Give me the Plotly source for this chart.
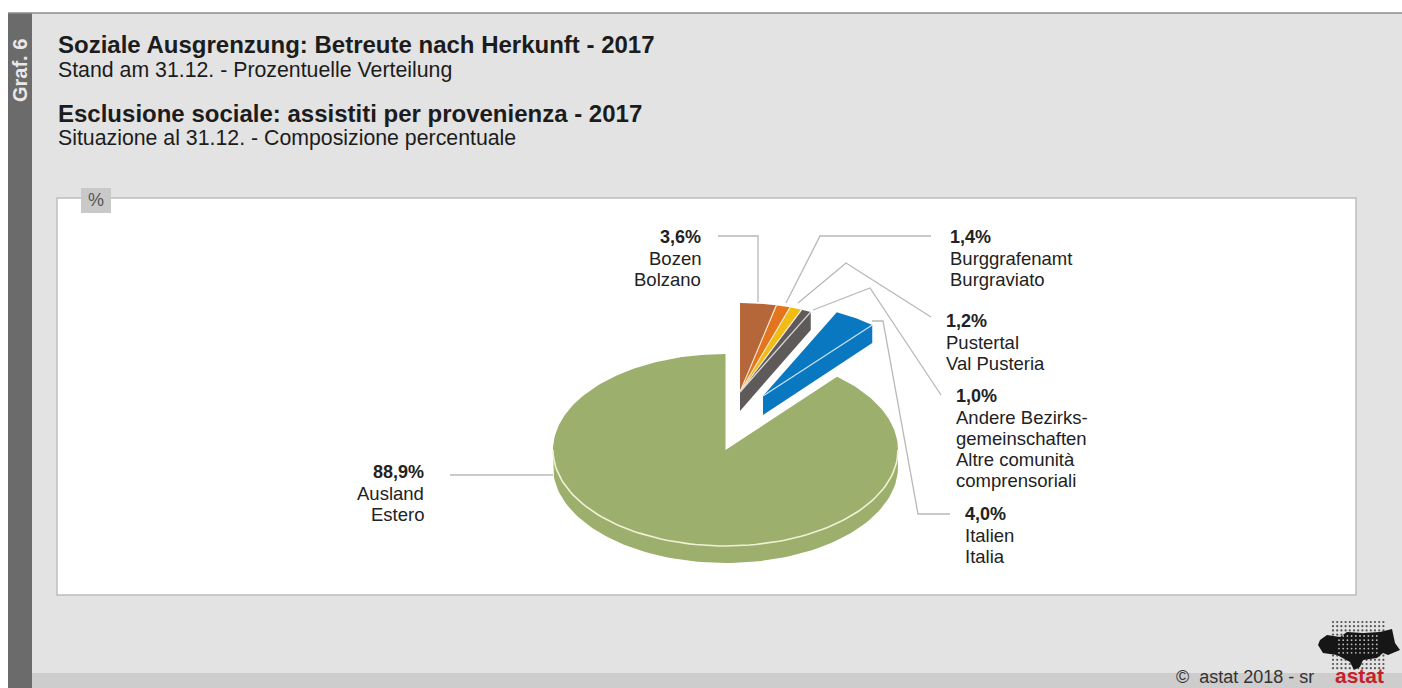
import math
import plotly.graph_objects as go

# ---- data ----
categories = ["Ausland / Estero", "Bozen / Bolzano", "Burggrafenamt / Burgraviato",
              "Pustertal / Val Pusteria", "Andere Bezirksgemeinschaften / Altre comunità comprensoriali",
              "Italien / Italia"]
values = [88.9, 3.6, 1.4, 1.2, 1.0, 4.0]
slice_colors = ["#9CAF6D", "#B5673A", "#E5751D", "#F2BC12", "#5E5A5A", "#0A78C1"]
label_texts = [
    ["<b>88,9%</b>", "Ausland", "Estero"],
    ["<b>3,6%</b>", "Bozen", "Bolzano"],
    ["<b>1,4%</b>", "Burggrafenamt", "Burgraviato"],
    ["<b>1,2%</b>", "Pustertal", "Val Pusteria"],
    ["<b>1,0%</b>", "Andere Bezirks-", "gemeinschaften", "Altre comunità", "comprensoriali"],
    ["<b>4,0%</b>", "Italien", "Italia"],
]

FONT = "Liberation Sans, Arial, sans-serif"
TXT = "#222222"
DEPTH = 17
LEAD = "#B8B8B8"
total = sum(values)

# clockwise-from-top sweep: small slices first from 12 o'clock, then the big one
order = [1, 2, 3, 4, 5, 0]
spans = {}
acc = 0.0
for i in order:
    spans[i] = (acc, acc + values[i] / total * 360)
    acc = spans[i][1]

# (centre x, centre y, radius x, radius y) of each exploded group
geom = {0: (725.5, 450, 172.5, 96), 1: (740, 392, 162, 89), 2: (740, 392, 162, 89),
        3: (740, 392, 162, 89), 4: (740, 392, 162, 89), 5: (763, 396, 169, 93)}


def pt(g, a, dy=0):
    r = math.radians(a)
    return g[0] + g[2] * math.sin(r), g[1] - g[3] * math.cos(r) + dy


def arc(g, a0, a1, dy=0, n=90):
    return [pt(g, a0 + (a1 - a0) * k / n, dy) for k in range(n + 1)]


def poly(points, fill, line=None, width=0):
    xs = [p[0] for p in points] + [points[0][0]]
    ys = [p[1] for p in points] + [points[0][1]]
    return go.Scatter(x=xs, y=ys, mode="lines", fill="toself", fillcolor=fill,
                      line=dict(color=line or fill, width=width),
                      hoverinfo="skip", showlegend=False)


def path(points, color, width=1.0):
    return go.Scatter(x=[p[0] for p in points], y=[p[1] for p in points], mode="lines",
                      line=dict(color=color, width=width), hoverinfo="skip", showlegend=False)


fig = go.Figure()

# big slice: wall, top, front rim
g = geom[0]
a0, a1 = spans[0]
wall = arc(g, 90, 270) + arc(g, 270, 90, DEPTH)
fig.add_trace(poly(wall, slice_colors[0]))
fig.add_trace(poly([(g[0], g[1])] + arc(g, a0, a1, n=240), slice_colors[0]))
fig.add_trace(path(arc(g, 90, 270), "#EEF2D2", 1.6))

# walls of the cut faces of the exploded slices
for i in (4, 5):
    g = geom[i]
    e = spans[i][1]
    ap, out = (g[0], g[1]), pt(g, e)
    fig.add_trace(poly([ap, out, (out[0], out[1] + DEPTH + 1), (ap[0], ap[1] + DEPTH + 2)], slice_colors[i]))

# top faces of the exploded slices
for i in order[:-1]:
    g = geom[i]
    a0, a1 = spans[i]
    fig.add_trace(poly([(g[0], g[1])] + arc(g, a0, a1, n=24), slice_colors[i]))
for i in (1, 2, 3):
    g = geom[i]
    fig.add_trace(path([(g[0], g[1]), pt(g, spans[i][1])], "#F3E6CF", 1.1))
for i, col in ((4, "#D8D8D8"), (5, "#BFE0F2")):
    g = geom[i]
    fig.add_trace(path([(g[0], g[1]), pt(g, spans[i][1])], col, 1.3))

# leader lines
leaders = [
    [(450, 475), (553, 475)],
    [(718, 236), (758, 236), (758, 302)],
    [(786, 303), (820, 236), (931, 236)],
    [(798, 303), (846, 263), (931, 317)],
    [(813, 310), (870, 288), (941, 395)],
    [(872, 321), (883, 321), (918, 514), (950, 514)],
]
for l in leaders:
    fig.add_trace(path(l, LEAD, 1.3))

# data labels: (x, first-line y, anchor)
anchors = [(425, 472, "right"), (702, 237, "right"), (949, 237, "left"),
           (945, 321, "left"), (955, 396, "left"), (964, 514, "left")]
for lines, (x, y, side) in zip(label_texts, anchors):
    for k, t in enumerate(lines):
        fig.add_annotation(x=x, y=y + k * 21, text=t, showarrow=False, xanchor=side, yanchor="middle",
                           borderpad=0, font=dict(family=FONT, size=18.5 if k else 18, color=TXT))

# titles
titles = [
    (57, 44, "<b>Soziale Ausgrenzung: Betreute nach Herkunft - 2017</b>", 24),
    (57, 70, "Stand am 31.12. - Prozentuelle Verteilung", 21.3),
    (57, 113, "<b>Esclusione sociale: assistiti per provenienza - 2017</b>", 24),
    (57, 138, "Situazione al 31.12. - Composizione percentuale", 21.3),
]
for x, y, t, s in titles:
    fig.add_annotation(x=x, y=y, text=t, showarrow=False, xanchor="left", yanchor="middle",
                       borderpad=0, font=dict(family=FONT, size=s, color="#1c1c1c"))
fig.add_annotation(x=20, y=71, text="<b>Graf. 6</b>", textangle=-90, showarrow=False,
                   font=dict(family=FONT, size=20, color="#E8E8E8"))
fig.add_annotation(x=96, y=200, text="%", showarrow=False,
                   font=dict(family=FONT, size=18, color="#555555"))
fig.add_annotation(x=1175, y=688, text="©  astat 2018 - sr", showarrow=False, xanchor="left", yanchor="bottom",
                   borderpad=0, font=dict(family=FONT, size=18, color="#333333"))
fig.add_annotation(x=1359, y=688, text="<b>astat</b>", showarrow=False, yanchor="bottom",
                   borderpad=0, font=dict(family=FONT, size=21, color="#C8202A"))

# logo: dot matrix with a black map silhouette
blob = [(1320, 640), (1327, 635), (1340, 637), (1347, 632), (1363, 633), (1380, 632), (1392, 629),
        (1395, 643), (1400, 650), (1388, 655), (1383, 653), (1377, 658), (1363, 660), (1360, 667),
        (1354, 670), (1350, 662), (1337, 655), (1323, 653), (1318, 645)]
dx = [1333 + 4.2 * k for k in range(13)]
dy = [622 + 4.2 * k for k in range(12)]
fig.add_trace(go.Scatter(x=[a for a in dx for _ in dy], y=[b for _ in dx for b in dy], mode="markers",
                         marker=dict(size=2.2, color="#555555"), hoverinfo="skip", showlegend=False))
fig.add_trace(poly(blob, "#161616"))
hx = [1339 + 4.2 * k for k in range(10)]
hy = [636 + 4.2 * k for k in range(5)]
fig.add_trace(go.Scatter(x=[a for a in hx for _ in hy], y=[b for _ in hx for b in hy], mode="markers",
                         marker=dict(size=1.8, color="#BBBBBB"), hoverinfo="skip", showlegend=False))

rects = [
    (8, 13, 1402, 688, "#E3E3E3", None),
    (32, 673, 1402, 688, "#CDCDCD", None),
    (8, 13, 32, 688, "#6B6B6B", None),
    (57, 198, 1356, 595, "#FFFFFF", "#BDBDBD"),
    (81, 188, 111, 213, "#C9C9C9", None),
]
shapes = [dict(type="rect", x0=a, y0=b, x1=c, y1=d, xref="x", yref="y", fillcolor=f, layer="below",
               line=dict(color=l or f, width=1.5 if l else 0)) for a, b, c, d, f, l in rects]
shapes.append(dict(type="line", x0=8, x1=1402, y0=13, y1=13, xref="x", yref="y", layer="below",
                   line=dict(color="#8C8C8C", width=1.5)))

fig.update_layout(
    width=1402, height=688, margin=dict(l=0, r=0, t=0, b=0),
    paper_bgcolor="#FFFFFF", plot_bgcolor="rgba(0,0,0,0)", shapes=shapes, showlegend=False,
    xaxis=dict(range=[0, 1402], visible=False, fixedrange=True),
    yaxis=dict(range=[688, 0], visible=False, fixedrange=True),
)
fig.write_html("out.html", post_script="document.body.style.margin='0';document.body.style.overflow='hidden';",
               config=dict(displayModeBar=False))
